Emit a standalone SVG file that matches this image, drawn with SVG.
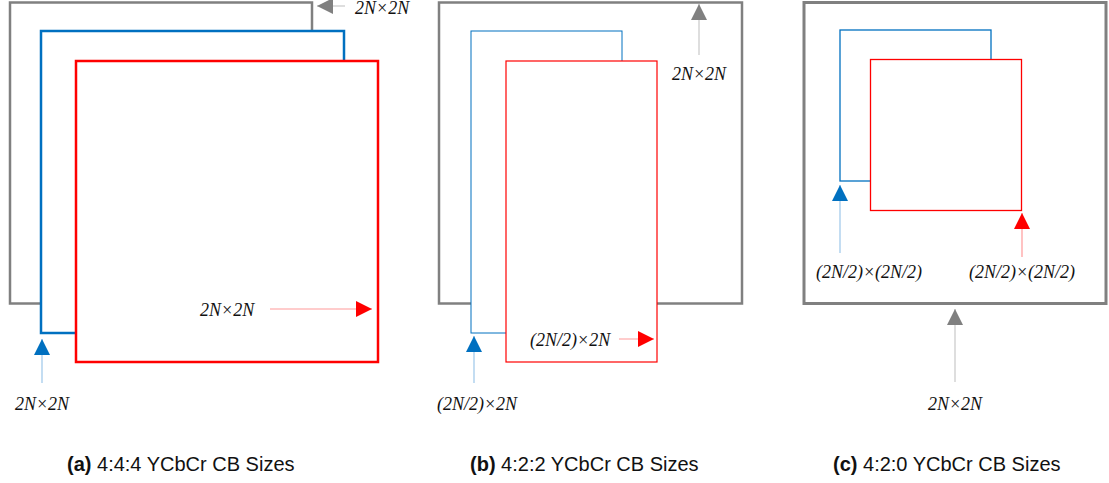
<svg xmlns="http://www.w3.org/2000/svg" width="1109" height="483" viewBox="0 0 1109 483">
<style>
.lbl{font-family:"Liberation Serif","Times New Roman",serif;font-style:italic;font-size:18px;fill:#111}
.cap{font-family:"Liberation Sans",Arial,sans-serif;font-size:20px;fill:#111}
.g{fill:#fff;stroke:#808080}
.b{fill:#fff;stroke:#0070C0}
.r{fill:#fff;stroke:#FF0000}
.lg{stroke:#c8c8c8;stroke-width:1.2;fill:none}
.lr{stroke:#ff9a9a;stroke-width:1.2;fill:none}
.lb{stroke:#9cc6ea;stroke-width:1.2;fill:none}
</style>
<defs>
<marker id="ag" markerUnits="userSpaceOnUse" markerWidth="16" markerHeight="16" refX="16" refY="8" orient="auto"><path d="M0,0 L16,8 L0,16 z" fill="#808080"/></marker>
<marker id="ar" markerUnits="userSpaceOnUse" markerWidth="16" markerHeight="16" refX="16" refY="8" orient="auto"><path d="M0,0 L16,8 L0,16 z" fill="#FF0000"/></marker>
<marker id="ab" markerUnits="userSpaceOnUse" markerWidth="16" markerHeight="16" refX="16" refY="8" orient="auto"><path d="M0,0 L16,8 L0,16 z" fill="#0070C0"/></marker>
</defs>

<g id="panel-a">
<g id="a-Y"><rect class="g" x="10" y="2.5" width="302" height="301" stroke-width="2.5"/></g>
<g id="a-Cb"><rect class="b" x="41" y="31" width="303" height="302" stroke-width="2.5"/></g>
<g id="a-Cr"><rect class="r" x="76" y="61" width="302" height="301" stroke-width="2.5"/></g>
</g>

<g id="panel-b">
<g id="b-Y"><rect class="g" x="439" y="2.5" width="303" height="301" stroke-width="2.5"/></g>
<g id="b-Cb"><rect class="b" x="471" y="31" width="151" height="302" stroke-width="1"/></g>
<g id="b-Cr"><rect class="r" x="506" y="61" width="151" height="301" stroke-width="1.2"/></g>
</g>

<g id="panel-c">
<g id="c-Y"><rect class="g" x="804" y="2.5" width="302" height="301" stroke-width="3"/></g>
<g id="c-Cb"><rect class="b" x="840" y="30" width="151" height="151" stroke-width="1.3"/></g>
<g id="c-Cr"><rect class="r" x="870.5" y="59.5" width="151" height="151" stroke-width="1.3"/></g>
</g>

<g id="connectors">
<line class="lg" x1="345" y1="6" x2="317" y2="6" marker-end="url(#ag)"/>
<line class="lr" x1="270" y1="309" x2="372" y2="309" marker-end="url(#ar)"/>
<line class="lb" x1="42" y1="383" x2="42" y2="339" marker-end="url(#ab)"/>
<line class="lg" x1="699" y1="55" x2="699" y2="4" marker-end="url(#ag)"/>
<line class="lr" x1="619" y1="339" x2="654" y2="339" marker-end="url(#ar)"/>
<line class="lb" x1="474" y1="383" x2="474" y2="336" marker-end="url(#ab)"/>
<line class="lb" x1="840" y1="253" x2="840" y2="185" marker-end="url(#ab)"/>
<line class="lr" x1="1022" y1="257" x2="1022" y2="213" marker-end="url(#ar)"/>
<line class="lg" x1="955" y1="382" x2="955" y2="309" marker-end="url(#ag)"/>
</g>

<g id="labels">
<text class="lbl" x="355" y="14">2N×2N</text>
<text class="lbl" x="200" y="316">2N×2N</text>
<text class="lbl" x="42" y="410" text-anchor="middle">2N×2N</text>
<text class="lbl" x="699" y="80" text-anchor="middle">2N×2N</text>
<text class="lbl" x="530" y="346">(2N/2)×2N</text>
<text class="lbl" x="477" y="410" text-anchor="middle">(2N/2)×2N</text>
<text class="lbl" x="869" y="278" text-anchor="middle">(2N/2)×(2N/2)</text>
<text class="lbl" x="1022" y="278" text-anchor="middle">(2N/2)×(2N/2)</text>
<text class="lbl" x="955" y="410" text-anchor="middle">2N×2N</text>
</g>

<g id="captions">
<text class="cap" x="67" y="471"><tspan font-weight="bold">(a)</tspan> 4:4:4 YCbCr CB Sizes</text>
<text class="cap" x="470" y="471"><tspan font-weight="bold">(b)</tspan> 4:2:2 YCbCr CB Sizes</text>
<text class="cap" x="833" y="471"><tspan font-weight="bold">(c)</tspan> 4:2:0 YCbCr CB Sizes</text>
</g>
</svg>
